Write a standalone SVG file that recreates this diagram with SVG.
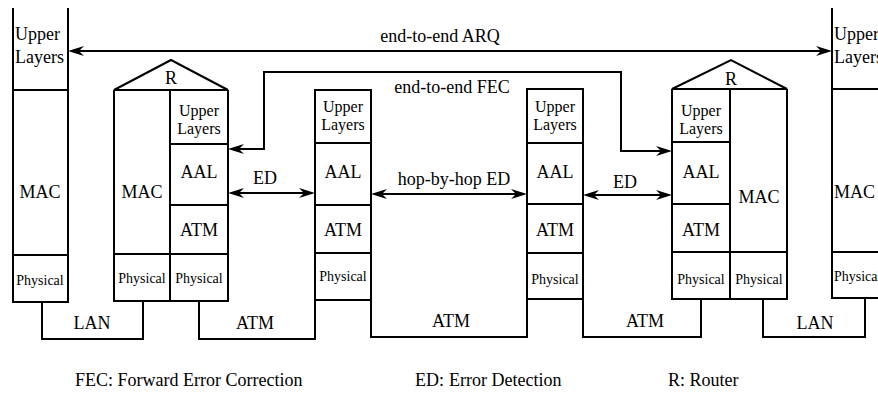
<svg xmlns="http://www.w3.org/2000/svg" width="878" height="395" viewBox="0 0 878 395" font-family="'Liberation Serif', 'Times New Roman', 'DejaVu Serif', serif">
<style>
.b{fill:none;stroke:#000;stroke-width:2}
.c{fill:none;stroke:#000;stroke-width:2}
text{font-family:'Liberation Serif','Times New Roman','DejaVu Serif',serif;fill:#000}
.l{font-size:18px}
.m{font-size:16px}
.s{font-size:14px}
.mid{text-anchor:middle}
</style>
<defs>
<marker id="ah" viewBox="0 0 16 10" refX="9" refY="5" markerWidth="16" markerHeight="10" markerUnits="userSpaceOnUse" orient="auto-start-reverse">
<path d="M0,0 L16,5 L0,10 L5,5 z" fill="#000"/>
</marker>
</defs>
<rect width="878" height="395" fill="#fff"/>

<g id="host-left">
<path class="b" d="M13,8 V302 H68 V8 M13,90 H68 M13,255 H68"/>
<text class="l" x="15" y="40">Upper</text>
<text class="l" x="15" y="63">Layers</text>
<text class="l mid" x="40" y="198">MAC</text>
<text class="s mid" x="40" y="285">Physical</text>
</g>

<g id="router-left">
<path class="b" d="M114,90 L171,60 L228,90 Z M114,90 V301 H228 V90 M170,90 V301 M170,144 H228 M170,205 H228 M114,254 H228"/>
<text class="l mid" x="171" y="84">R</text>
<text class="m mid" x="199" y="116">Upper</text>
<text class="m mid" x="199" y="134">Layers</text>
<text class="l mid" x="199" y="178">AAL</text>
<text class="l mid" x="142" y="198">MAC</text>
<text class="l mid" x="199" y="236">ATM</text>
<text class="s mid" x="142" y="283">Physical</text>
<text class="s mid" x="199" y="283">Physical</text>
</g>

<g id="switch-1">
<path class="b" d="M315,90 H371 V300 H315 Z M315,143 H371 M315,205 H371 M315,253 H371"/>
<text class="m mid" x="343" y="112">Upper</text>
<text class="m mid" x="343" y="130">Layers</text>
<text class="l mid" x="343" y="178">AAL</text>
<text class="l mid" x="343" y="236">ATM</text>
<text class="s mid" x="343" y="281">Physical</text>
</g>

<g id="switch-2">
<path class="b" d="M527,89 H583 V299 H527 Z M527,143 H583 M527,204 H583 M527,253 H583"/>
<text class="m mid" x="555" y="112">Upper</text>
<text class="m mid" x="555" y="130">Layers</text>
<text class="l mid" x="555" y="178">AAL</text>
<text class="l mid" x="555" y="236">ATM</text>
<text class="s mid" x="555" y="284">Physical</text>
</g>

<g id="router-right">
<path class="b" d="M672,89 L731,60 L787,89 Z M672,89 V299 H787 V89 M730,89 V299 M672,142 H730 M672,204 H730 M672,252 H787"/>
<text class="l mid" x="731" y="85">R</text>
<text class="m mid" x="701" y="116">Upper</text>
<text class="m mid" x="701" y="134">Layers</text>
<text class="l mid" x="701" y="178">AAL</text>
<text class="l mid" x="759" y="203">MAC</text>
<text class="l mid" x="701" y="236">ATM</text>
<text class="s mid" x="701" y="284">Physical</text>
<text class="s mid" x="759" y="284">Physical</text>
</g>

<g id="host-right">
<path class="b" d="M832,8 V298 H880 M832,89 H880 M832,252 H880"/>
<text class="l" x="834" y="40">Upper</text>
<text class="l" x="834" y="63">Layers</text>
<text class="l" x="834" y="198">MAC</text>
<text class="s" x="834" y="281">Physical</text>
</g>

<g id="links">
<path class="b" d="M42,302 V339 H143 V301"/>
<text class="l mid" x="92" y="329">LAN</text>
<path class="b" d="M199,301 V339 H315 V300"/>
<text class="l mid" x="255" y="329">ATM</text>
<path class="b" d="M371,300 V337 H527 V299"/>
<text class="l mid" x="451" y="327">ATM</text>
<path class="b" d="M583,299 V337 H701 V299"/>
<text class="l mid" x="645" y="327">ATM</text>
<path class="b" d="M763,299 V337 H865 V298"/>
<text class="l mid" x="815" y="329">LAN</text>
</g>

<g id="connectors">
<path class="c" d="M75,51 H825" marker-start="url(#ah)" marker-end="url(#ah)"/>
<path class="c" d="M235,149 H264 V72 H621 V151 H665" marker-start="url(#ah)" marker-end="url(#ah)"/>
<path class="c" d="M235,193 H308" marker-start="url(#ah)" marker-end="url(#ah)"/>
<path class="c" d="M378,194 H520" marker-start="url(#ah)" marker-end="url(#ah)"/>
<path class="c" d="M590,195 H665" marker-start="url(#ah)" marker-end="url(#ah)"/>
<text class="l mid" x="440" y="42">end-to-end ARQ</text>
<text class="l mid" x="452" y="93">end-to-end FEC</text>
<text class="l mid" x="265" y="184">ED</text>
<text class="l mid" x="454" y="185">hop-by-hop ED</text>
<text class="l mid" x="625" y="188">ED</text>
</g>

<g id="legend">
<text class="l" x="75" y="386">FEC: Forward Error Correction</text>
<text class="l" x="415" y="386">ED:</text>
<text class="l" x="449" y="386">Error Detection</text>
<text class="l" x="668" y="386">R: Router</text>
</g>
</svg>
